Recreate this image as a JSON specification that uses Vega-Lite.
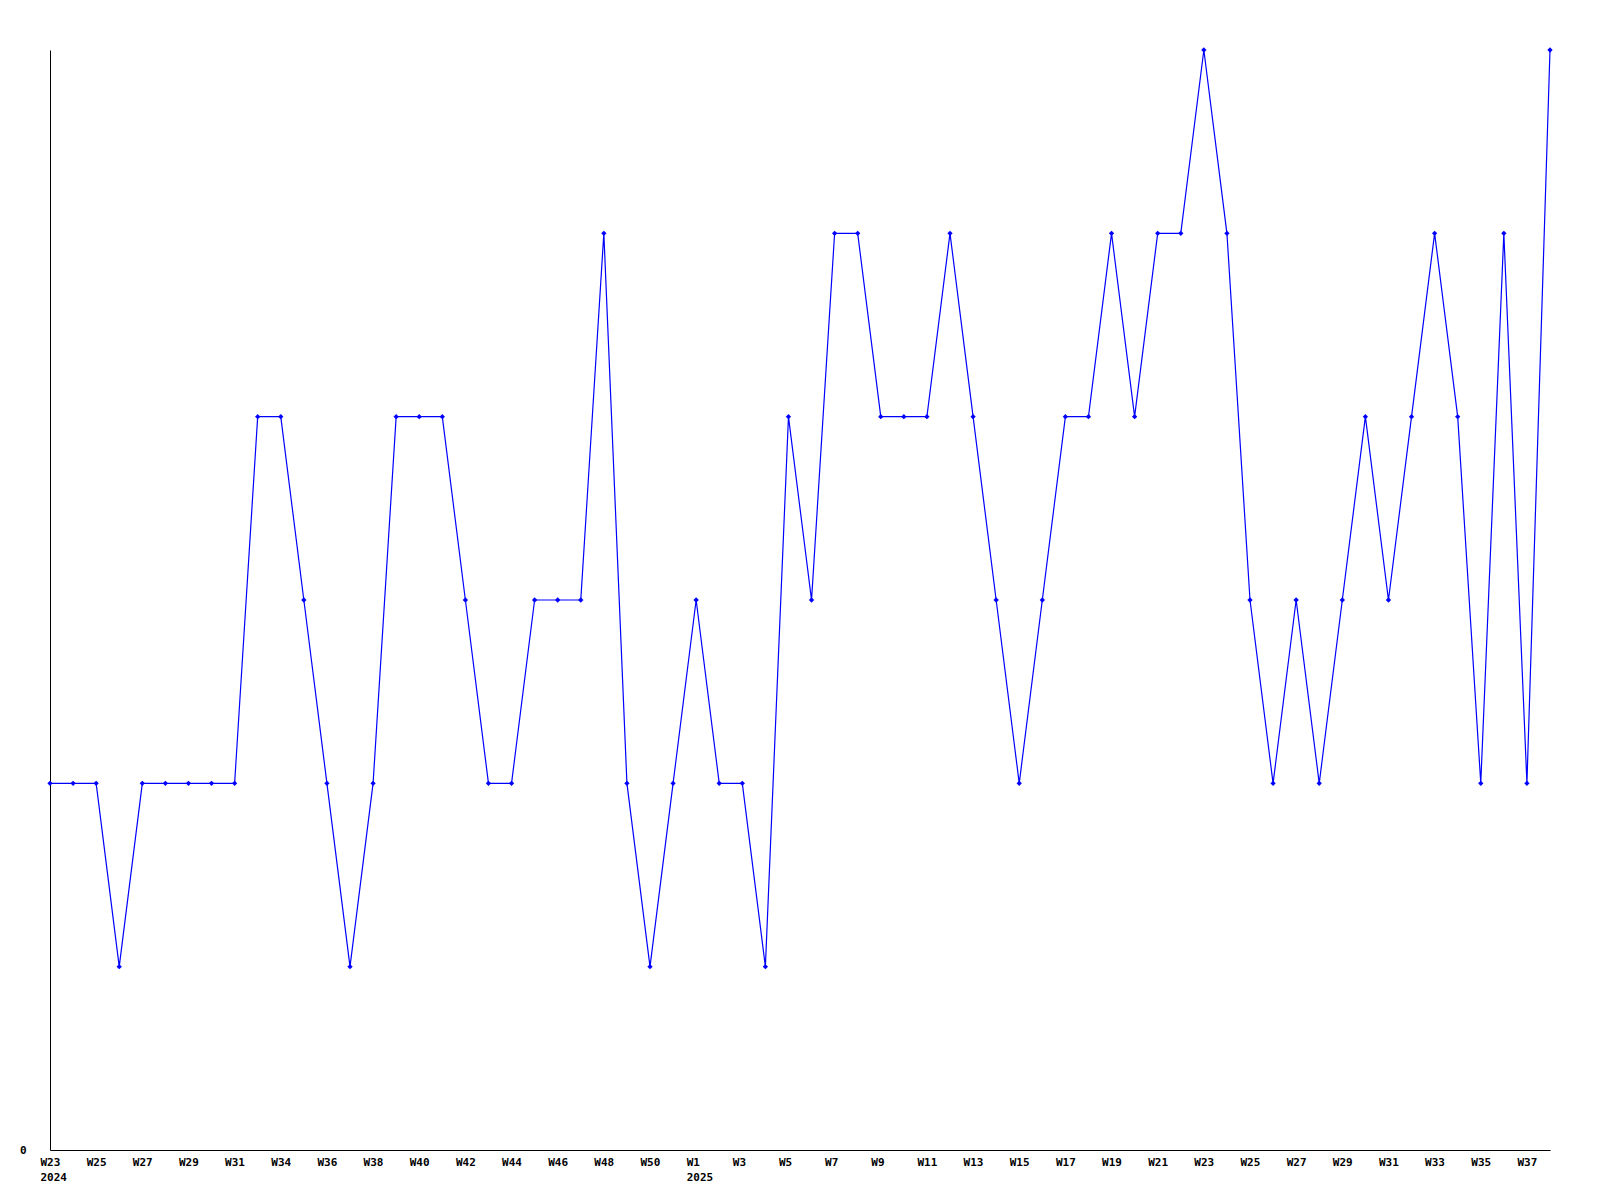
{
  "$schema": "https://vega.github.io/schema/vega-lite/v6.json",
  "autosize": {"type": "none"},
  "width": 1500,
  "height": 1100,
  "padding": {"left": 50, "top": 50, "right": 50, "bottom": 50},
  "background": "white",
  "config": {
    "view": {"stroke": null},
    "axis": {
      "labelFont": "DejaVu Sans Mono",
      "labelFontWeight": "bold",
      "labelFontSize": 11,
      "labelColor": "black",
      "domainColor": "black",
      "domainWidth": 1,
      "ticks": false,
      "grid": false,
      "title": null
    }
  },
  "data": {
    "values": [
      {"period": "2024-W23", "count": 2},
      {"period": "2024-W24", "count": 2},
      {"period": "2024-W25", "count": 2},
      {"period": "2024-W26", "count": 1},
      {"period": "2024-W27", "count": 2},
      {"period": "2024-W28", "count": 2},
      {"period": "2024-W29", "count": 2},
      {"period": "2024-W30", "count": 2},
      {"period": "2024-W31", "count": 2},
      {"period": "2024-W32", "count": 4},
      {"period": "2024-W34", "count": 4},
      {"period": "2024-W35", "count": 3},
      {"period": "2024-W36", "count": 2},
      {"period": "2024-W37", "count": 1},
      {"period": "2024-W38", "count": 2},
      {"period": "2024-W39", "count": 4},
      {"period": "2024-W40", "count": 4},
      {"period": "2024-W41", "count": 4},
      {"period": "2024-W42", "count": 3},
      {"period": "2024-W43", "count": 2},
      {"period": "2024-W44", "count": 2},
      {"period": "2024-W45", "count": 3},
      {"period": "2024-W46", "count": 3},
      {"period": "2024-W47", "count": 3},
      {"period": "2024-W48", "count": 5},
      {"period": "2024-W49", "count": 2},
      {"period": "2024-W50", "count": 1},
      {"period": "2024-W51", "count": 2},
      {"period": "2025-W1", "count": 3},
      {"period": "2025-W2", "count": 2},
      {"period": "2025-W3", "count": 2},
      {"period": "2025-W4", "count": 1},
      {"period": "2025-W5", "count": 4},
      {"period": "2025-W6", "count": 3},
      {"period": "2025-W7", "count": 5},
      {"period": "2025-W8", "count": 5},
      {"period": "2025-W9", "count": 4},
      {"period": "2025-W10", "count": 4},
      {"period": "2025-W11", "count": 4},
      {"period": "2025-W12", "count": 5},
      {"period": "2025-W13", "count": 4},
      {"period": "2025-W14", "count": 3},
      {"period": "2025-W15", "count": 2},
      {"period": "2025-W16", "count": 3},
      {"period": "2025-W17", "count": 4},
      {"period": "2025-W18", "count": 4},
      {"period": "2025-W19", "count": 5},
      {"period": "2025-W20", "count": 4},
      {"period": "2025-W21", "count": 5},
      {"period": "2025-W22", "count": 5},
      {"period": "2025-W23", "count": 6},
      {"period": "2025-W24", "count": 5},
      {"period": "2025-W25", "count": 3},
      {"period": "2025-W26", "count": 2},
      {"period": "2025-W27", "count": 3},
      {"period": "2025-W28", "count": 2},
      {"period": "2025-W29", "count": 3},
      {"period": "2025-W30", "count": 4},
      {"period": "2025-W31", "count": 3},
      {"period": "2025-W32", "count": 4},
      {"period": "2025-W33", "count": 5},
      {"period": "2025-W34", "count": 4},
      {"period": "2025-W35", "count": 2},
      {"period": "2025-W36", "count": 5},
      {"period": "2025-W37", "count": 2},
      {"period": "2025-W38", "count": 6}
    ]
  },
  "encoding": {
    "x": {
      "field": "period",
      "type": "ordinal",
      "sort": null,
      "scale": {"type": "point", "padding": 0},
      "axis": {
        "values": ["2024-W23", "2024-W25", "2024-W27", "2024-W29", "2024-W31", "2024-W34", "2024-W36", "2024-W38", "2024-W40", "2024-W42", "2024-W44", "2024-W46", "2024-W48", "2024-W50", "2025-W1", "2025-W3", "2025-W5", "2025-W7", "2025-W9", "2025-W11", "2025-W13", "2025-W15", "2025-W17", "2025-W19", "2025-W21", "2025-W23", "2025-W25", "2025-W27", "2025-W29", "2025-W31", "2025-W33", "2025-W35", "2025-W37"],
        "labelExpr": "(datum.value == '2024-W23' || datum.value == '2025-W1') ? [split(datum.value, '-')[1], split(datum.value, '-')[0]] : split(datum.value, '-')[1]",
        "labelAngle": 0,
        "labelAlign": "left",
        "labelOffset": -10,
        "labelBaseline": "top",
        "labelPadding": 6,
        "labelLineHeight": 15,
        "labelOverlap": false
      }
    },
    "y": {
      "field": "count",
      "type": "quantitative",
      "scale": {"domain": [0, 6], "nice": false, "zero": true},
      "axis": {
        "values": [0],
        "labelAlign": "right",
        "labelBaseline": "middle",
        "labelPadding": 24
      }
    }
  },
  "layer": [
    {"mark": {"type": "line", "color": "#0000ff", "strokeWidth": 1.2}},
    {"mark": {"type": "point", "shape": "diamond", "filled": true, "color": "#0000ff", "size": 28, "opacity": 1}}
  ]
}
